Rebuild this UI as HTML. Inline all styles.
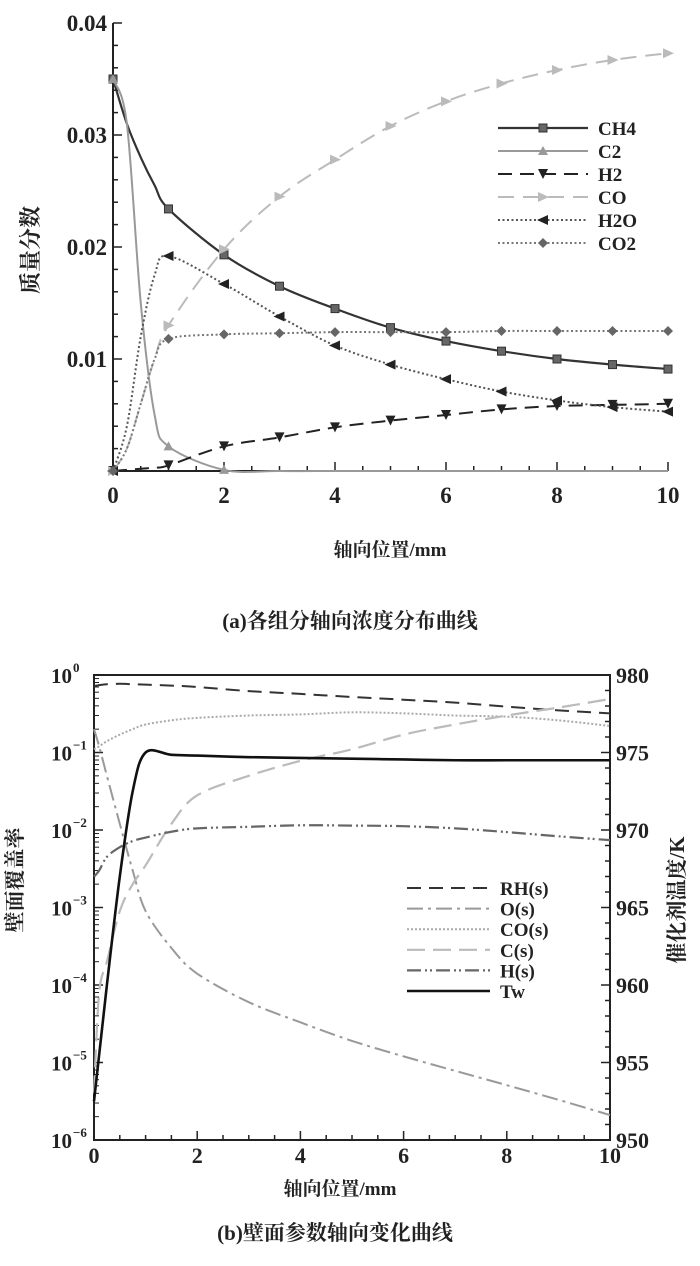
<!DOCTYPE html>
<html><head><meta charset="utf-8"><style>
html,body{margin:0;padding:0;background:#fff;}
svg{display:block;}
text{font-family:"Liberation Serif","Noto Serif CJK SC",serif;font-weight:bold;fill:#222;}
</style></head><body>
<svg id="fig" width="700" height="1266" viewBox="0 0 700 1266">
<g id="chartA"></g>
<g id="chartB"></g>
<text x="38" y="250" font-size="22" text-anchor="middle" transform="rotate(-90 38 250)">质量分数</text>
<text x="390" y="556" font-size="19" text-anchor="middle">轴向位置/mm</text>
<text x="350" y="628" font-size="21" text-anchor="middle">(a)各组分轴向浓度分布曲线</text>
<text x="22" y="880" font-size="21" text-anchor="middle" transform="rotate(-90 22 880)">壁面覆盖率</text>
<text x="684" y="900" font-size="21" text-anchor="middle" transform="rotate(-90 684 900)">催化剂温度/K</text>
<text x="340" y="1195" font-size="19" text-anchor="middle">轴向位置/mm</text>
<text x="335" y="1240" font-size="21" text-anchor="middle">(b)壁面参数轴向变化曲线</text>
</svg>
<script>
// ---------- Chart A data ----------
const xA = [0,0.25,0.5,0.75,1,2,3,4,5,6,7,8,9,10];
const ch4 = [0.035,0.031,0.028,0.0255,0.0234,0.0193,0.0165,0.0145,0.0128,0.0116,0.0107,0.0100,0.0095,0.0091];
const c2  = [0.035,0.031,0.015,0.005,0.0022,0.0001,0,0,0,0,0,0,0,0];
const h2  = [0,0.0001,0.0002,0.0003,0.0005,0.0022,0.0030,0.0039,0.0045,0.0050,0.0055,0.0058,0.0059,0.0060];
const co  = [0,0.002,0.006,0.010,0.0130,0.0198,0.0245,0.0278,0.0308,0.0330,0.0346,0.0358,0.0367,0.0373];
const h2o = [0,0.004,0.012,0.0175,0.0192,0.0167,0.0138,0.0112,0.0095,0.0082,0.0071,0.0063,0.0057,0.0053];
const co2 = [0,0.002,0.006,0.010,0.0118,0.0122,0.0123,0.0124,0.0124,0.0124,0.0125,0.0125,0.0125,0.0125];
const yTicksA = [0.01,0.02,0.03,0.04];
const yTickLabelsA = ["0.01","0.02","0.03","0.04"];
const xTicksA = [0,2,4,6,8,10];
const namesA = ["CH4","C2","H2","CO","H2O","CO2"];

// ---------- Chart B data ----------
const xB = [0,0.1,0.25,0.5,0.75,1,1.5,2,3,4,5,6,7,8,9,10];
const rh  = [0.72,0.74,0.76,0.77,0.76,0.75,0.73,0.70,0.62,0.57,0.52,0.48,0.44,0.39,0.35,0.32];
const os  = [0.2,0.12,0.05,0.012,0.003,0.0009,0.0003,0.00014,0.00006,0.000033,0.000019,0.000012,0.0000078,0.0000051,0.0000033,0.0000021];
const cos = [0.11,0.12,0.14,0.17,0.2,0.23,0.26,0.28,0.30,0.31,0.33,0.32,0.30,0.29,0.26,0.22];
const cs  = [0.000004,0.00008,0.0002,0.0009,0.002,0.0035,0.012,0.028,0.05,0.078,0.11,0.17,0.23,0.30,0.38,0.49];
const hs  = [0.0025,0.003,0.0045,0.006,0.0072,0.0080,0.0095,0.0105,0.011,0.0115,0.0114,0.0112,0.0105,0.0094,0.0083,0.0074];
const tw  = [952.5,955.5,960,967,972.5,975,974.85,974.8,974.7,974.65,974.6,974.55,974.5,974.5,974.5,974.5];
const decadesB = [0,-1,-2,-3,-4,-5,-6];
const rTicksB = [950,955,960,965,970,975,980];
const xTicksB = [0,2,4,6,8,10];
const namesB = ["RH(s)","O(s)","CO(s)","C(s)","H(s)","Tw"];

const NS="http://www.w3.org/2000/svg";
function mk(tag,attrs,parent){const e=document.createElementNS(NS,tag);for(const k in attrs)e.setAttribute(k,attrs[k]);parent.appendChild(e);return e;}
function smooth(pts){let d="M"+pts[0][0].toFixed(2)+","+pts[0][1].toFixed(2);
 for(let i=0;i<pts.length-1;i++){const p0=pts[i-1]||pts[i],p1=pts[i],p2=pts[i+1],p3=pts[i+2]||p2;
  const c1=[p1[0]+(p2[0]-p0[0])/6,p1[1]+(p2[1]-p0[1])/6],c2=[p2[0]-(p3[0]-p1[0])/6,p2[1]-(p3[1]-p1[1])/6];
  d+=" C"+c1.map(v=>v.toFixed(2))+" "+c2.map(v=>v.toFixed(2))+" "+p2.map(v=>v.toFixed(2));}
 return d;}

// ---------- Chart A ----------
const gA=document.getElementById('chartA');
const AL=113,AR=668,AT=23,AB=471;
const xa=v=>AL+(v/10)*(AR-AL);
const ya=v=>AB-(v/0.04)*(AB-AT);
let ax=mk('path',{d:`M${AL},${AT} L${AL},${AB} L${AR},${AB}`,stroke:'#222','stroke-width':2,fill:'none'},gA);


for(let v=0;v<=0.04001;v+=0.002){const y=ya(v);const major=Math.abs(v*100-Math.round(v*100))<1e-6;
 const t=mk('line',{x1:AL,x2:AL+(major?9:5),y1:y,y2:y,stroke:'#222','stroke-width':1.5},gA);
 
 }
yTicksA.forEach((v,i)=>{const t=mk('text',{x:AL-6,y:ya(v)+8,'font-size':23,'text-anchor':'end'},gA);t.textContent=yTickLabelsA[i];
 
 });
for(let v=0;v<=10.001;v+=0.5){const x=xa(v);const major=Math.abs(v%2)<1e-6;
 const t=mk('line',{x1:x,x2:x,y1:AB,y2:AB-(major?9:5),stroke:'#222','stroke-width':1.5},gA);
 
 }
xTicksA.forEach(v=>{const t=mk('text',{x:xa(v),y:AB+32,'font-size':23,'text-anchor':'middle'},gA);t.textContent=String(v);
 
 });
const stylesA=[
 {s:'#333',w:2.2,da:'',m:'sq'},{s:'#999',w:2,da:'',m:'tri'},{s:'#222',w:2,da:'14,8',m:'tridn'},
 {s:'#bbb',w:2,da:'16,9',m:'triR'},{s:'#555',w:2,da:'2,2.5',m:'triL'},{s:'#777',w:2,da:'2,2.5',m:'dia'}];
const seriesA=[ch4,c2,h2,co,h2o,co2];
function marker(g,type,x,y,col){let e;
 if(type==='sq')e=mk('rect',{x:x-4,y:y-4,width:8,height:8,fill:'#666',stroke:col,'stroke-width':1},g);
 else if(type==='tri')e=mk('path',{d:`M${x},${y-5} L${x+5},${y+4} L${x-5},${y+4}Z`,fill:col},g);
 else if(type==='tridn')e=mk('path',{d:`M${x-5},${y-5} L${x+5},${y-5} L${x},${y+5}Z`,fill:col},g);
 else if(type==='triR')e=mk('path',{d:`M${x-5},${y-5} L${x+6},${y} L${x-5},${y+5}Z`,fill:col},g);
 else if(type==='triL')e=mk('path',{d:`M${x+5},${y-5} L${x-6},${y} L${x+5},${y+5}Z`,fill:'#222'},g);
 else e=mk('path',{d:`M${x},${y-5} L${x+5},${y} L${x},${y+5} L${x-5},${y}Z`,fill:'#666'},g);
 return e;}
seriesA.forEach((arr,si)=>{const st=stylesA[si];
 const pts=xA.map((x,i)=>[xa(x),ya(arr[i])]);
 const p=mk('path',{d:smooth(pts),stroke:st.s,'stroke-width':st.w,fill:'none','stroke-dasharray':st.da},gA);
 
 
 xA.forEach((x,i)=>{if(Number.isInteger(x) && !(si===1 && x>2)){const m=marker(gA,st.m,xa(x),ya(arr[i]),st.s);
  
  }});
 const ly=128+si*23;
 const ll=mk('line',{x1:498,x2:588,y1:ly,y2:ly,stroke:st.s,'stroke-width':st.w,'stroke-dasharray':st.da},gA);
 
 
 const lm=marker(gA,st.m,543,ly,st.s);
 
 
 const lt=mk('text',{x:598,y:ly+7,'font-size':19},gA);lt.textContent=namesA[si];
 
 });

// ---------- Chart B ----------
const gB=document.getElementById('chartB');
const BL=94,BR=610,BT=675,BB=1140;
const xb=v=>BL+(v/10)*(BR-BL);
const yb=v=>BT+(-Math.log10(v))/6*(BB-BT);
const yr=v=>BB-(v-950)/30*(BB-BT);
let bx=mk('rect',{x:BL,y:BT,width:BR-BL,height:BB-BT,stroke:'#222','stroke-width':2,fill:'none'},gB);


decadesB.forEach(d=>{const y=yb(Math.pow(10,d));
 const t=mk('line',{x1:BL,x2:BL+9,y1:y,y2:y,stroke:'#222','stroke-width':1.5},gB);
 
 
 if(d>-6){for(let k=2;k<10;k++){const yy=yb(k*Math.pow(10,d-1));
  const m=mk('line',{x1:BL,x2:BL+5,y1:yy,y2:yy,stroke:'#222','stroke-width':1},gB);
  
  }}
 const t1=mk('text',{x:BL-22,y:y+8,'font-size':21,'text-anchor':'end'},gB);t1.textContent='10';
 
 
 const t2=mk('text',{x:BL-21,y:y-3,'font-size':13},gB);t2.textContent=d===0?'0':('−'+(-d));
 
 });
for(let v=950;v<=980;v++){const y=yr(v);const major=v%5===0;
 const t=mk('line',{x1:BR,x2:BR-(major?9:5),y1:y,y2:y,stroke:'#222','stroke-width':1.5},gB);
 
 }
rTicksB.forEach(v=>{const t=mk('text',{x:BR+6,y:yr(v)+8,'font-size':22},gB);t.textContent=String(v);
 
 });
for(let v=0;v<=10.001;v+=0.5){const x=xb(v);const major=Math.abs(v%2)<1e-6;
 const t=mk('line',{x1:x,x2:x,y1:BB,y2:BB-(major?9:5),stroke:'#222','stroke-width':1.5},gB);
 
 }
xTicksB.forEach(v=>{const t=mk('text',{x:xb(v),y:BB+23,'font-size':22,'text-anchor':'middle'},gB);t.textContent=String(v);
 
 });
const stylesB=[{s:'#333',w:2,da:'14,8'},{s:'#999',w:2,da:'16,5,3,5'},{s:'#aaa',w:2,da:'2,2'},
 {s:'#bbb',w:2.2,da:'18,8'},{s:'#666',w:2.2,da:'14,4,2,3,2,4'},{s:'#111',w:2.6,da:''}];
const seriesB=[rh,os,cos,cs,hs,tw];
seriesB.forEach((arr,si)=>{const st=stylesB[si];
 const pts=xB.map((x,i)=>[xb(x),si===5?yr(arr[i]):yb(arr[i])]);
 const p=mk('path',{d:smooth(pts),stroke:st.s,'stroke-width':st.w,fill:'none','stroke-dasharray':st.da},gB);
 
 
 const ly=888+si*20.6;
 const ll=mk('line',{x1:407,x2:490,y1:ly,y2:ly,stroke:st.s,'stroke-width':st.w,'stroke-dasharray':st.da},gB);
 
 
 const lt=mk('text',{x:500,y:ly+7,'font-size':19},gB);lt.textContent=namesB[si];
 
 });
</script>
</body></html>
